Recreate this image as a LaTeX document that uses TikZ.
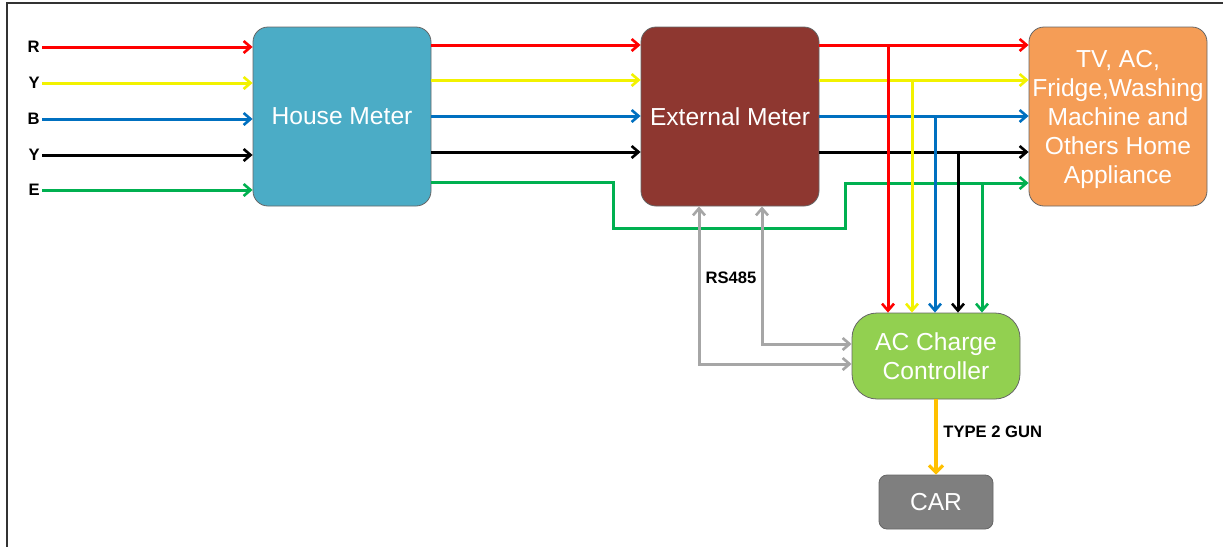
\documentclass[tikz,border=0pt]{standalone}
\usepackage{fontspec}
\setmainfont{Liberation Sans}
\usetikzlibrary{arrows.meta,positioning}
\definecolor{houseblue}{HTML}{4BACC6}
\definecolor{extbrown}{HTML}{8E3730}
\definecolor{applorange}{HTML}{F59D56}
\definecolor{ctrlgreen}{HTML}{92D050}
\definecolor{cargrey}{HTML}{7F7F7F}
\definecolor{wred}{HTML}{FF0000}
\definecolor{wyellow}{HTML}{F2F200}
\definecolor{wblue}{HTML}{0070C0}
\definecolor{wgreen}{HTML}{00B050}
\definecolor{wgrey}{HTML}{A6A6A6}
\definecolor{worange}{HTML}{FFC000}
\tikzset{
	blockbox/.style={draw=black!60, fill=#1, rounded corners=7.5pt, text=white,
		align=center, inner sep=0pt, font=\fontsize{12.3}{14.5}\selectfont},
	wire/.style={line width=1.5pt},
	tip/.style={-{Straight Barb[length=3.5pt,width=6pt,line width=1.3pt]}},
	phase/.style={font=\fontsize{8.3}{10}\selectfont\bfseries, anchor=east, inner sep=1pt},
	tag/.style={font=\fontsize{8.3}{10}\selectfont\bfseries, inner sep=1pt}
}
\begin{document}
\begin{tikzpicture}[x=0.5pt,y=-0.5pt]
			\useasboundingbox (0,0) rectangle (1223,547);
			\draw[line width=1pt, black!80] (7,547) -- (7,3) -- (1223,3);
			% blocks
			\node[blockbox=houseblue, minimum width=89pt, minimum height=89.5pt] (house) at (342,116.5) {House Meter};
			\node[blockbox=extbrown, minimum width=89pt, minimum height=89.5pt] (ext) at (730,116.5) {External Meter};
			\node[blockbox=applorange, minimum width=89pt, minimum height=89.5pt] (appl) at (1118,116.5) {};
			\node[text=white, align=center, inner sep=0pt, font=\fontsize{12.3}{14.5}\selectfont] (appltext) at (1118,119.5)
				{TV, AC,\\Fridge,Washing\\Machine and\\Others Home\\Appliance};
			\node[blockbox=ctrlgreen, rounded corners=12.5pt, minimum width=84pt, minimum height=43pt] (ctrl) at (936,356) {AC Charge\\Controller};
			\node[blockbox=cargrey, rounded corners=4pt, minimum width=57pt, minimum height=27pt] (car) at (936,502) {CAR};
			% supply side
			\node[phase] (lR) at (42,47) {R};
			\node[phase] (lY) at (42,83) {Y};
			\node[phase] (lB) at (42,119) {B};
			\node[phase] (lN) at (42,155) {Y};
			\node[phase] (lE) at (42,190) {E};
			\draw[wire,tip,wred] (lR.east) -- (lR.east -| house.west);
			\draw[wire,tip,wyellow] (lY.east) -- (lY.east -| house.west);
			\draw[wire,tip,wblue] (lB.east) -- (lB.east -| house.west);
			\draw[wire,tip,black] (lN.east) -- (lN.east -| house.west);
			\draw[wire,tip,wgreen] (lE.east) -- (lE.east -| house.west);
			% house meter to external meter
			\draw[wire,tip,wred] (house.east |- 0,45) -- (ext.west |- 0,45);
			\draw[wire,tip,wyellow] (house.east |- 0,80) -- (ext.west |- 0,80);
			\draw[wire,tip,wblue] (house.east |- 0,116) -- (ext.west |- 0,116);
			\draw[wire,tip,black] (house.east |- 0,152) -- (ext.west |- 0,152);
			\draw[wire,tip,wgreen] (house.east |- 0,182) -- (613,182) -- (613,228) -- (845,228) -- (845,183) -- (appl.west |- 0,183);
			% external meter to appliances
			\draw[wire,tip,wred] (ext.east |- 0,45) -- (appl.west |- 0,45);
			\draw[wire,tip,wyellow] (ext.east |- 0,80) -- (appl.west |- 0,80);
			\draw[wire,tip,wblue] (ext.east |- 0,116) -- (appl.west |- 0,116);
			\draw[wire,tip,black] (ext.east |- 0,152) -- (appl.west |- 0,152);
			% taps to charge controller
			\coordinate (tR) at (888,45);
			\coordinate (tY) at (912,80);
			\coordinate (tB) at (935,116);
			\coordinate (tN) at (958,152);
			\coordinate (tE) at (982,183);
			\draw[wire,tip,wred] (tR) -- (tR |- ctrl.north);
			\draw[wire,tip,wyellow] (tY) -- (tY |- ctrl.north);
			\draw[wire,tip,wblue] (tB) -- (tB |- ctrl.north);
			\draw[wire,tip,black] (tN) -- (tN |- ctrl.north);
			\draw[wire,tip,wgreen] (tE) -- (tE |- ctrl.north);
			% RS485 link
			\draw[wire,wgrey,{Straight Barb[length=3.5pt,width=6pt,line width=1.3pt]}-{Straight Barb[length=3.5pt,width=6pt,line width=1.3pt]}]
				(ext.south -| 699,0) |- (ctrl.west |- 0,364);
			\draw[wire,wgrey,{Straight Barb[length=3.5pt,width=6pt,line width=1.3pt]}-{Straight Barb[length=3.5pt,width=6pt,line width=1.3pt]}]
				(ext.south -| 762,0) |- (ctrl.west |- 0,344);
			\node[tag] (rs) at (731,278) {RS485};
			% charging cable
			\draw[worange, line width=2pt, -{Straight Barb[length=3.5pt,width=7pt,line width=1.6pt]}] (ctrl.south) -- (car.north);
			\node[tag, anchor=west] (gun) at (941,432) {TYPE 2 GUN};
		\end{tikzpicture}
\end{document}
